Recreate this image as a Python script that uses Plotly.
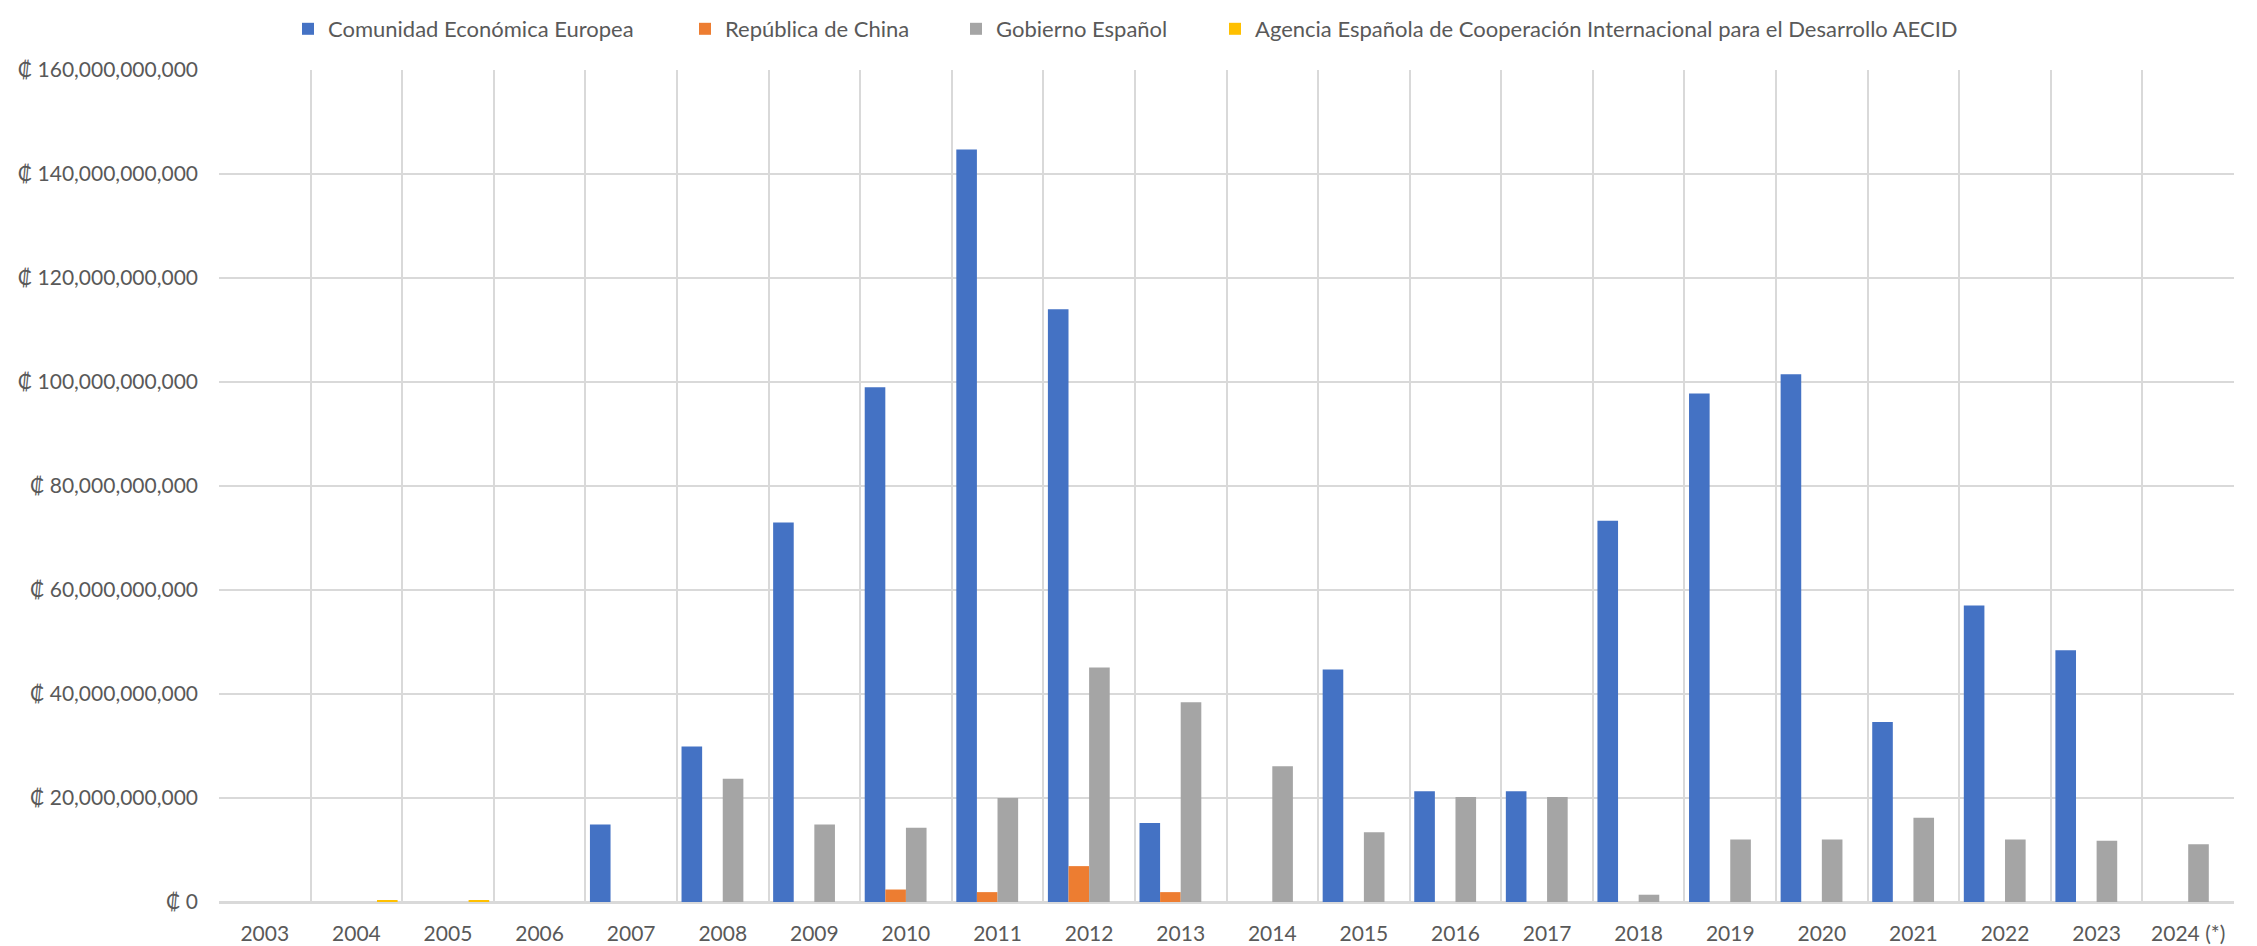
import plotly.graph_objects as go

years = ["2003", "2004", "2005", "2006", "2007", "2008", "2009", "2010", "2011", "2012", "2013",
         "2014", "2015", "2016", "2017", "2018", "2019", "2020", "2021", "2022", "2023", "2024 (*)"]

B = 1e9
cee = [0, 0, 0, 0, 14.9, 29.9, 73.0, 99.0, 144.7, 114.0, 15.2,
       0, 44.7, 21.3, 21.3, 73.3, 97.8, 101.5, 34.6, 57.0, 48.4, 0]
china = [0, 0, 0, 0, 0, 0, 0, 2.4, 1.9, 6.9, 1.9,
         0, 0, 0, 0, 0, 0, 0, 0, 0, 0, 0]
gobierno = [0, 0, 0, 0, 0, 23.7, 14.9, 14.3, 20.0, 45.1, 38.4,
            26.1, 13.4, 20.2, 20.2, 1.4, 12.0, 12.0, 16.2, 12.0, 11.8, 11.1]
aecid = [0, 0.35, 0.35, 0, 0, 0, 0, 0, 0, 0, 0,
         0, 0, 0, 0, 0, 0, 0, 0, 0, 0, 0]

series = [
    ("Comunidad Económica Europea", cee, "#4472C4", "legend"),
    ("República de China", china, "#ED7D31", "legend2"),
    ("Gobierno Español", gobierno, "#A5A5A5", "legend3"),
    ("Agencia Española de Cooperación Internacional para el Desarrollo AECID", aecid, "#FFC000", "legend4"),
]

FONT = "Lato"
TXT = "#595959"
# page body has an 8px margin; size the figure to fit the window
W, H = 2249, 938

fig = go.Figure()
for name, vals, color, leg in series:
    fig.add_trace(go.Bar(
        x=years, y=[v * B for v in vals], name=name,
        marker=dict(color=color, line=dict(width=0)),
        legend=leg,
    ))

# legend text starts (window px) in the reference
text_starts = [328, 725, 996, 1255]
leg_common = dict(orientation="h", xref="container", yref="container",
                  xanchor="left", yanchor="top", y=1.0,
                  font=dict(family=FONT, size=22, color=TXT),
                  bgcolor="rgba(0,0,0,0)", borderwidth=0)
legends = {}
for i, key in enumerate(["legend", "legend2", "legend3", "legend4"]):
    legends[key] = dict(x=(text_starts[i] - 48) / W, **leg_common)

fig.update_layout(
    width=W, height=H,
    paper_bgcolor="white", plot_bgcolor="white",
    margin=dict(l=211, r=23, t=62, b=44, autoexpand=False),
    barmode="group", bargap=0.1, bargroupgap=0,
    font=dict(family=FONT, size=21, color=TXT),
    showlegend=True,
    **legends,
)

fig.update_xaxes(
    type="category", tickson="boundaries",
    showgrid=True, gridcolor="#D9D9D9", gridwidth=1.5,
    showline=True, linecolor="#D9D9D9", linewidth=2,
    ticks="", ticklabelstandoff=12,
    tickfont=dict(family=FONT, size=21, color=TXT),
)
fig.update_yaxes(
    range=[0, 160e9], dtick=20e9, tick0=0,
    tickprefix="₡ ", tickformat=",d",
    showgrid=True, gridcolor="#D9D9D9", gridwidth=1.5,
    zeroline=True, zerolinecolor="#D9D9D9", zerolinewidth=2,
    showline=False, ticks="", ticklabelstandoff=20,
    tickfont=dict(family=FONT, size=21, color=TXT),
)

fig.write_html("out.html")
